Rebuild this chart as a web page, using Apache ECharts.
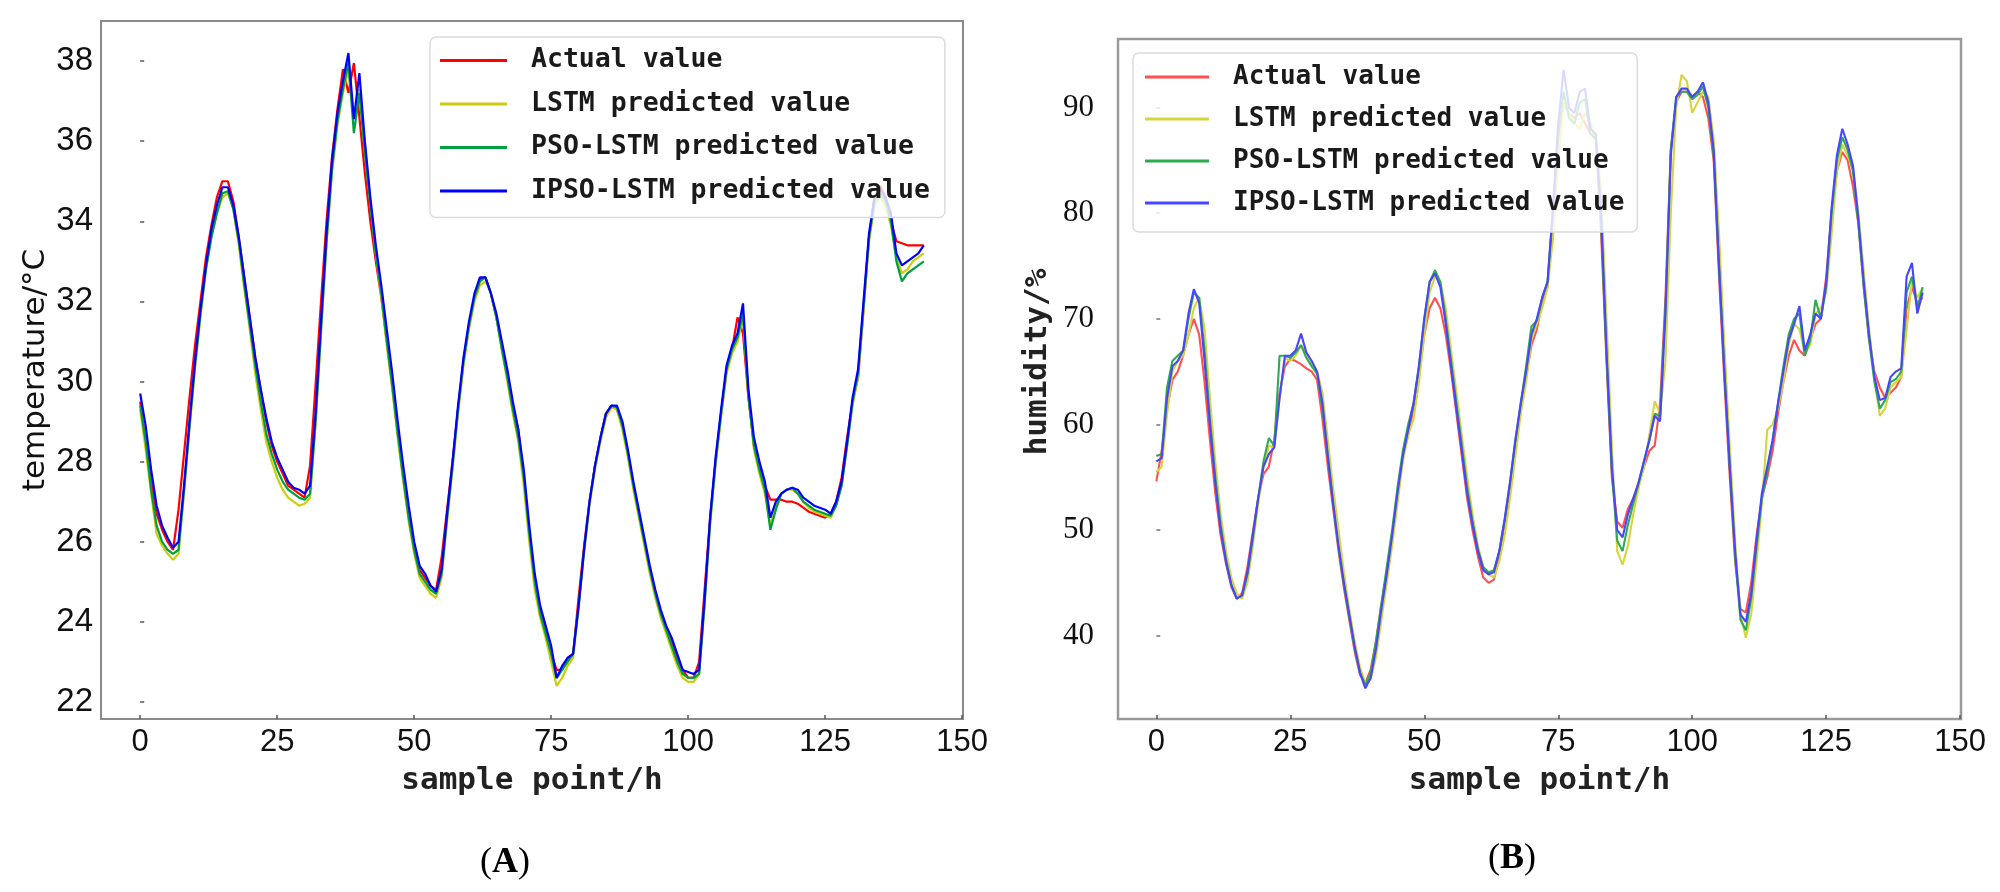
<!DOCTYPE html>
<html>
<head>
<meta charset="utf-8">
<title>temperature / humidity prediction</title>
<script src="https://cdn.jsdelivr.net/npm/echarts@6.0.0/dist/echarts.min.js"></script>
<style>
  html, body { margin: 0; padding: 0; background: #fff; }
  #main { width: 2000px; height: 892px; }
</style>
</head>
<body>
<div id="main"></div>
<script>
// sample index 0..143 (one point per hour)
var samplePoints = [];
for (var k = 0; k < 144; k++) samplePoints.push(k);

var seriesNames = ['Actual value', 'LSTM predicted value', 'PSO-LSTM predicted value', 'IPSO-LSTM predicted value'];
var xTicks = [0, 25, 50, 75, 100, 125, 150];
var tempTicks = [22, 24, 26, 28, 30, 32, 34, 36, 38];
var humTicks = [40, 50, 60, 70, 80, 90];

// (A) temperature
var tempActual = [
  29.5,28.5,27.5,26.7,26.3,26.0,25.8,26.8,28.2,29.6,
  30.9,32.0,33.1,33.9,34.6,35.0,35.0,34.5,33.6,32.6,
  31.6,30.6,29.8,29.0,28.4,28.0,27.7,27.4,27.3,27.2,
  27.1,27.9,29.9,32.0,34.0,35.6,36.8,37.8,37.2,37.95,
  36.6,35.2,34.0,33.0,32.1,31.0,29.9,28.7,27.6,26.6,
  25.9,25.3,25.1,24.9,24.8,25.6,26.8,28.0,29.3,30.5,
  31.4,32.1,32.55,32.6,32.2,31.6,30.9,30.2,29.4,28.8,
  27.6,26.2,25.0,24.3,23.8,23.2,22.8,22.8,23.1,23.2,
  24.6,25.9,27.0,27.9,28.6,29.2,29.4,29.3,28.9,28.2,
  27.4,26.7,26.0,25.3,24.7,24.2,23.8,23.5,23.1,22.8,
  22.6,22.6,23.0,24.8,26.6,28.0,29.2,30.3,30.8,31.6,
  31.2,29.6,28.4,27.9,27.4,27.05,27.05,27.05,27.0,27.0,
  26.95,26.85,26.75,26.7,26.65,26.6,26.7,27.0,27.6,28.6,
  29.5,30.1,31.8,33.6,34.6,34.9,34.6,34.0,33.5,33.45,
  33.4,33.4,33.4,33.4
];
var tempLSTM = [
  29.3,28.3,27.2,26.2,25.9,25.7,25.55,25.7,27.2,28.8,
  30.3,31.6,32.8,33.6,34.2,34.6,34.7,34.3,33.4,32.3,
  31.3,30.2,29.3,28.5,28.0,27.6,27.3,27.1,27.0,26.9,
  26.95,27.1,28.9,31.2,33.4,35.2,36.4,37.2,37.8,36.6,
  37.3,35.9,34.5,33.2,32.1,30.9,29.8,28.6,27.5,26.5,
  25.7,25.1,24.9,24.7,24.6,25.1,26.5,27.8,29.2,30.4,
  31.3,32.0,32.4,32.5,32.2,31.6,30.8,30.0,29.2,28.5,
  27.4,26.0,24.8,24.1,23.6,23.0,22.4,22.6,22.9,23.1,
  24.3,25.7,26.9,27.8,28.5,29.1,29.35,29.3,28.8,28.1,
  27.3,26.6,25.9,25.2,24.6,24.1,23.7,23.3,22.9,22.6,
  22.5,22.5,22.7,24.4,26.4,27.9,29.1,30.2,30.7,31.0,
  31.6,29.7,28.3,27.7,27.2,26.4,26.9,27.2,27.3,27.3,
  27.2,27.0,26.85,26.75,26.7,26.65,26.6,26.9,27.4,28.4,
  29.4,30.1,31.8,33.5,34.4,34.6,34.4,33.9,33.1,32.7,
  32.8,33.0,33.1,33.2
];
var tempPSO = [
  29.4,28.5,27.3,26.4,26.0,25.8,25.7,25.8,27.3,28.9,
  30.4,31.7,32.8,33.6,34.2,34.7,34.75,34.3,33.5,32.4,
  31.4,30.4,29.5,28.7,28.2,27.8,27.5,27.3,27.2,27.1,
  27.05,27.2,29.0,31.3,33.5,35.3,36.5,37.3,37.95,36.2,
  37.2,35.7,34.4,33.2,32.2,31.0,29.9,28.7,27.6,26.6,
  25.8,25.2,25.0,24.8,24.7,25.2,26.6,27.9,29.3,30.5,
  31.4,32.1,32.5,32.6,32.2,31.6,30.8,30.1,29.3,28.6,
  27.6,26.2,25.0,24.2,23.7,23.2,22.6,22.8,23.0,23.2,
  24.4,25.8,27.0,27.9,28.6,29.2,29.4,29.35,28.9,28.2,
  27.4,26.7,26.0,25.3,24.7,24.2,23.8,23.4,23.0,22.7,
  22.6,22.6,22.7,24.5,26.5,28.0,29.2,30.3,30.8,31.1,
  31.7,29.6,28.4,27.8,27.3,26.3,26.8,27.2,27.3,27.35,
  27.2,27.0,26.9,26.8,26.75,26.7,26.65,26.9,27.4,28.4,
  29.5,30.2,31.9,33.6,34.5,34.7,34.5,34.0,33.0,32.5,
  32.7,32.8,32.9,33.0
];
var tempIPSO = [
  29.7,28.9,27.8,26.9,26.4,26.1,25.85,26.0,27.4,29.0,
  30.5,31.8,32.9,33.8,34.4,34.85,34.85,34.4,33.6,32.6,
  31.6,30.6,29.8,29.1,28.5,28.1,27.8,27.5,27.35,27.3,
  27.2,27.4,29.2,31.5,33.7,35.5,36.7,37.5,38.2,36.55,
  37.7,36.0,34.6,33.4,32.4,31.3,30.2,29.0,27.9,26.9,
  26.0,25.4,25.2,24.9,24.75,25.3,26.7,28.0,29.4,30.6,
  31.5,32.2,32.6,32.6,32.2,31.7,31.0,30.3,29.5,28.8,
  27.8,26.4,25.2,24.4,23.9,23.4,22.6,22.9,23.1,23.2,
  24.4,25.8,27.0,27.9,28.6,29.2,29.4,29.4,29.0,28.3,
  27.5,26.8,26.1,25.4,24.8,24.3,23.9,23.6,23.2,22.8,
  22.75,22.7,22.8,24.6,26.6,28.1,29.3,30.4,30.9,31.2,
  31.95,29.8,28.6,28.0,27.5,26.6,27.0,27.2,27.3,27.35,
  27.3,27.1,27.0,26.9,26.85,26.8,26.7,27.0,27.5,28.5,
  29.6,30.3,32.0,33.7,34.6,34.8,34.6,34.2,33.2,32.9,
  33.0,33.1,33.2,33.4
];

// (B) humidity
var humActual = [
  54.6,57.5,61.5,64.2,65.0,66.5,68.5,70.0,68.5,64.0,
  58.5,53.5,49.5,46.8,44.6,43.5,44.0,46.5,49.8,53.0,
  55.3,56.0,58.5,63.0,65.5,66.2,66.0,65.7,65.3,65.0,
  64.2,60.5,56.0,52.0,48.0,44.5,41.5,38.5,36.3,35.5,
  36.8,39.5,43.0,46.0,49.5,53.5,57.0,59.0,61.5,64.5,
  68.5,71.0,72.0,71.0,68.5,65.0,61.0,57.0,53.0,50.0,
  47.5,45.5,45.0,45.3,47.5,50.5,54.0,58.0,61.5,64.5,
  67.5,69.0,71.5,73.0,80.0,87.0,90.3,89.5,89.0,89.5,
  88.5,87.5,87.5,78.0,66.0,55.0,50.8,50.2,52.0,53.0,
  54.5,56.0,57.5,58.0,62.0,72.0,86.0,90.5,91.5,91.5,
  91.0,91.5,91.0,89.0,85.0,74.0,64.0,55.0,47.0,42.5,
  42.2,45.0,49.5,53.0,55.0,57.5,61.0,64.0,66.5,68.0,
  67.0,66.5,68.0,69.5,70.0,74.0,80.0,84.0,85.8,85.0,
  82.5,79.0,73.0,68.0,65.0,63.5,62.5,63.0,63.5,64.5,
  71.0,73.0,71.5,72.0
];
var humLSTM = [
  55.5,56.0,61.0,65.0,66.0,66.5,68.5,71.0,72.0,69.0,
  62.5,56.5,51.5,48.0,45.5,44.0,43.5,45.0,48.5,52.5,
  56.0,58.0,57.8,62.5,66.3,66.0,66.5,67.5,66.8,65.8,
  65.0,63.0,58.5,54.0,50.0,46.0,42.5,39.5,37.0,35.5,
  35.8,38.0,41.5,45.0,48.5,52.5,56.5,59.0,60.5,64.0,
  68.5,72.5,74.0,73.5,71.0,67.0,63.0,59.0,55.0,51.5,
  48.5,46.5,45.8,45.5,47.0,49.5,53.0,57.0,61.0,64.0,
  68.0,69.5,71.0,73.0,77.5,85.0,90.5,89.5,88.5,88.0,
  89.5,88.5,87.0,82.0,70.0,58.0,48.0,46.7,48.5,51.5,
  54.0,56.0,59.0,62.2,61.0,66.0,80.0,90.0,93.1,92.5,
  89.5,90.5,91.5,91.0,87.0,78.0,67.5,58.0,49.0,42.0,
  39.8,42.0,47.0,52.5,59.5,60.0,61.5,64.0,67.5,69.5,
  69.0,66.8,67.5,70.5,71.0,72.5,78.0,84.0,86.5,85.5,
  84.0,80.0,74.5,69.0,64.5,60.8,61.5,63.5,64.0,64.5,
  69.0,73.5,72.0,73.0
];
var humPSO = [
  57.0,57.2,63.5,66.0,66.5,67.0,70.0,72.5,72.0,67.0,
  60.5,55.0,50.5,47.2,44.8,43.5,43.8,45.8,49.2,53.0,
  56.5,58.7,58.0,66.5,66.5,66.3,66.8,67.5,66.3,65.5,
  64.8,61.5,57.0,52.5,48.3,44.8,41.8,38.8,36.5,35.3,
  36.5,39.5,43.0,46.5,50.0,54.0,57.5,60.0,62.0,65.5,
  70.0,73.5,74.6,73.5,70.0,66.0,62.0,58.0,54.0,50.8,
  48.2,46.5,46.0,46.2,48.0,51.0,54.5,58.5,62.0,65.5,
  69.3,69.8,72.0,73.5,80.0,87.5,91.5,89.0,88.5,90.5,
  90.8,87.5,87.0,79.0,66.5,55.5,49.0,48.0,50.5,52.5,
  54.5,56.5,58.5,61.0,60.8,71.0,86.0,91.0,91.5,91.5,
  90.8,91.2,92.0,90.0,85.5,75.0,65.0,56.0,47.5,41.5,
  40.5,43.5,48.5,53.0,55.5,58.5,62.0,65.5,68.5,70.0,
  70.5,66.5,68.0,71.8,70.0,73.0,80.0,85.0,87.2,86.0,
  84.0,79.0,73.0,68.0,64.0,61.5,62.3,64.0,64.3,65.0,
  72.5,74.0,71.0,73.0
];
var humIPSO = [
  56.5,56.8,62.5,65.5,66.0,67.0,70.5,72.8,71.5,66.0,
  60.0,54.5,50.0,47.0,44.8,43.5,43.8,46.0,49.5,53.0,
  56.0,57.2,57.8,62.5,66.5,66.5,67.0,68.6,66.8,66.0,
  65.0,62.0,57.0,52.5,48.5,45.0,42.0,39.0,36.5,35.0,
  36.0,38.8,42.5,45.8,49.5,53.5,57.0,59.5,62.0,65.5,
  70.0,73.5,74.3,73.0,69.5,65.5,61.5,57.5,53.5,50.5,
  48.0,46.2,45.8,46.0,48.0,51.0,54.5,58.5,62.0,65.0,
  68.5,70.0,72.0,73.5,80.5,88.5,93.6,90.0,89.5,91.5,
  91.8,88.0,87.5,80.0,67.0,56.0,50.0,49.3,51.5,53.0,
  54.5,56.5,58.5,60.8,60.3,70.5,85.5,91.0,91.8,91.8,
  91.0,91.5,92.4,90.5,86.0,75.0,65.0,56.0,48.0,42.0,
  41.3,44.0,49.0,53.5,56.0,58.5,62.0,65.0,68.0,69.5,
  71.2,67.0,68.5,70.5,70.0,73.5,80.5,85.5,88.0,86.5,
  84.5,79.5,73.5,68.5,64.5,62.3,62.5,64.5,65.0,65.3,
  74.0,75.3,70.5,72.5
];

var colorsA = ['#ff0000', '#cccc10', '#00a040', '#0000ff'];
var colorsB = ['#ff5050', '#d6d63c', '#30aa50', '#4646ff'];

function toPoints(values) {
  return values.map(function (v, i) { return [samplePoints[i], v]; });
}

function makeXAxis(gridIndex) {
  return {
    type: 'value',
    gridIndex: gridIndex,
    min: -7.15,
    max: 150.15,
    axisLine: { show: false },
    axisTick: { show: true, inside: true, length: 4, customValues: xTicks, lineStyle: { color: '#555', width: 1.5 } },
    axisLabel: { customValues: xTicks, margin: 8, fontFamily: 'Liberation Sans', fontSize: 31, color: '#111' },
    splitLine: { show: false },
    name: 'sample point/h',
    nameLocation: 'middle',
    nameGap: 46,
    nameTextStyle: { fontFamily: 'DejaVu Sans Mono', fontWeight: 'bold', fontSize: 31, color: '#222' }
  };
}

function makeLegend(names, colors, pos) {
  return {
    left: pos.left,
    top: pos.top,
    orient: 'vertical',
    selectedMode: false,
    icon: 'rect',
    itemWidth: pos.itemWidth,
    itemHeight: 3,
    itemGap: pos.itemGap,
    padding: pos.padding,
    backgroundColor: 'rgba(255,255,255,0.8)',
    borderColor: '#dcdcdc',
    borderWidth: 1.5,
    borderRadius: 6,
    itemStyle: { borderWidth: 0 },
    data: names.map(function (n, i) { return { name: n, itemStyle: { color: colors[i] } }; }),
    textStyle: {
      fontFamily: 'DejaVu Sans Mono',
      fontWeight: 'bold',
      fontSize: pos.fontSize,
      lineHeight: pos.fontSize,
      color: '#1a1a1a',
      padding: [0, 0, 0, 19]
    }
  };
}

function makeSeries(name, values, color, idx, width) {
  return {
    name: name,
    type: 'line',
    xAxisIndex: idx,
    yAxisIndex: idx,
    data: toPoints(values),
    showSymbol: false,
    symbol: 'none',
    lineStyle: { color: color, width: width },
    itemStyle: { color: color },
    emphasis: { disabled: true }
  };
}

function setOption(chart) {
  var tempSeries = [tempActual, tempLSTM, tempPSO, tempIPSO];
  var humSeries = [humActual, humLSTM, humPSO, humIPSO];
  var series = [];
  seriesNames.forEach(function (n, i) { series.push(makeSeries(n, tempSeries[i], colorsA[i], 0, 2.2)); });
  seriesNames.forEach(function (n, i) { series.push(makeSeries(n, humSeries[i], colorsB[i], 1, 2.1)); });

  var option = {
    animation: false,
    backgroundColor: '#fff',
    grid: [
      { left: 101, top: 21, width: 862, height: 698, show: true, borderColor: '#8a8a8a', borderWidth: 2, backgroundColor: 'transparent' },
      { left: 1118, top: 39, width: 843, height: 680, show: true, borderColor: '#9a9a9a', borderWidth: 2.5, backgroundColor: 'transparent' }
    ],
    xAxis: [makeXAxis(0), makeXAxis(1)],
    yAxis: [
      {
        type: 'value',
        gridIndex: 0,
        min: 21.575,
        max: 39.0,
        axisLine: { show: false },
        axisTick: { show: true, inside: true, length: 4, customValues: tempTicks, lineStyle: { color: '#555', width: 1.5 } },
        axisLabel: { customValues: tempTicks, margin: 8, fontFamily: 'Liberation Sans', fontSize: 33, color: '#111' },
        splitLine: { show: false },
        name: 'temperature/°C',
        nameLocation: 'middle',
        nameGap: 50,
        nameTextStyle: { fontFamily: 'DejaVu Sans', fontSize: 31, color: '#111' }
      },
      {
        type: 'value',
        gridIndex: 1,
        min: 32.1,
        max: 96.5,
        axisLine: { show: false },
        axisTick: { show: true, inside: true, length: 4, customValues: humTicks, lineStyle: { color: '#777', width: 1.5 } },
        axisLabel: { customValues: humTicks, margin: 24, fontFamily: 'Liberation Serif', fontSize: 31, color: '#111' },
        splitLine: { show: false },
        name: 'humidity/%',
        nameLocation: 'middle',
        nameGap: 65,
        nameTextStyle: { fontFamily: 'DejaVu Sans Mono', fontWeight: 'bold', fontSize: 31, color: '#222', padding: [0, 0, 0, 34] }
      }
    ],
    legend: [
      makeLegend(seriesNames, colorsA, { left: 430, top: 37, itemWidth: 67, itemGap: 16.5, padding: [10, 15, 13, 10], fontSize: 26.5 }),
      makeLegend(seriesNames, colorsB, { left: 1133, top: 53, itemWidth: 64, itemGap: 16, padding: [11, 13, 16, 12], fontSize: 26 })
    ],
    graphic: [
      {
        type: 'text', x: 505, y: 863,
        style: {
          text: '({b|A})', align: 'center', verticalAlign: 'middle',
          fontFamily: 'Liberation Serif', fontSize: 36, fill: '#000',
          rich: { b: { fontFamily: 'Liberation Serif', fontSize: 36, fontWeight: 'bold', fill: '#000' } }
        }
      },
      {
        type: 'text', x: 1512, y: 859,
        style: {
          text: '({b|B})', align: 'center', verticalAlign: 'middle',
          fontFamily: 'Liberation Serif', fontSize: 36, fill: '#000',
          rich: { b: { fontFamily: 'Liberation Serif', fontSize: 36, fontWeight: 'bold', fill: '#000' } }
        }
      }
    ],
    series: series
  };
  chart.setOption(option);
}

var chart = echarts.init(document.getElementById('main'), null, { renderer: 'canvas' });
setOption(chart);
</script>
</body>
</html>
